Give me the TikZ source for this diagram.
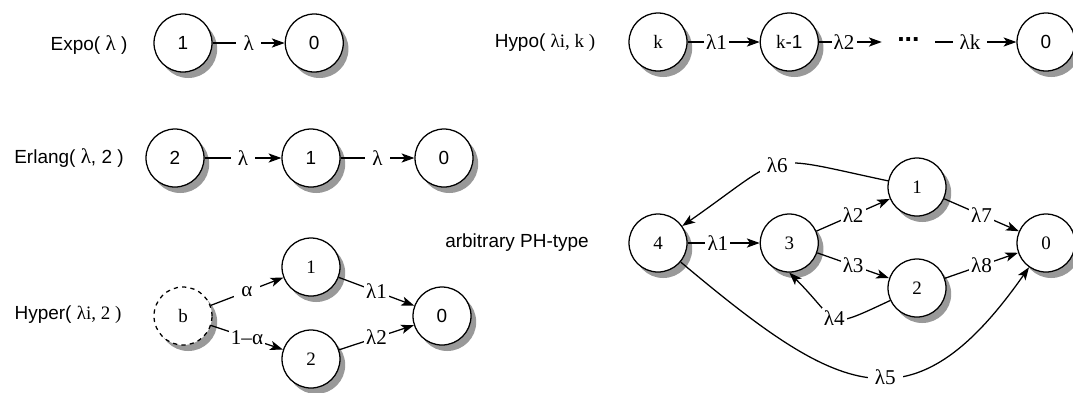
\documentclass[tikz,border=0pt]{standalone}
\usepackage{fontspec}
\setmainfont{Liberation Sans}
\newfontfamily\tms{Liberation Serif}
\usepackage{tikz}
\usetikzlibrary{arrows.meta,positioning,shadows}

\begin{document}
\begin{tikzpicture}[
  font=\fontsize{13.5}{16}\selectfont,
  state/.style={circle, draw, line width=0.9pt, fill=white, minimum size=1.45cm,
                inner sep=0pt, drop shadow={fill=black!40, opacity=1,
                shadow xshift=0.13cm, shadow yshift=-0.15cm}},
  tstate/.style={state, font=\fontsize{13.5}{16}\selectfont\tms},
  rate/.style={fill=white, inner sep=1.5pt, font=\fontsize{15}{17}\selectfont\tms},
  wrate/.style={rate, inner xsep=5pt},
  arr/.style={-{Stealth[length=3.2mm, width=2.3mm, inset=0.8mm]}, line width=0.9pt},
  node distance=1.8cm
]
\useasboundingbox (0,0) rectangle (26.825,-9.8);

% ── Exponential ─────────────
\node (expo) at (2.225,-1.125) {Expo( {\tms\fontsize{15}{17}\selectfont λ} )};
\node[state] (e1) at (4.575,-1.075) {1};
\node[state, right=of e1] (e0) {0};
\draw[arr] (e1) -- node[wrate]{λ} (e0);

% ── Hypoexponential ─────────
\node (hypo) at (13.625,-1.075) {Hypo( {\tms λi, k )}};
\node[tstate] (hk) at (16.45,-1.05) {k};
\node[tstate, right=of hk] (hk1) {k{\rmfamily -1}};
\node[minimum width=1.32cm, inner sep=0pt] (dots) at (22.71,-1.05)
  {\fontsize{19}{19}\selectfont\bfseries\raisebox{0.2em}{...}};
\node[state] (h0) at (26.15,-1.05) {0};
\draw[arr] (hk) -- node[rate, pos=0.4]{λ1} (hk1);
\draw[arr] (hk1) -- node[rate, pos=0.4]{λ2} (dots);
\draw[arr] (dots) -- node[wrate, pos=0.43]{λk} (h0);

% ── Erlang ──────────────────
\node (erl) at (1.725,-3.95) {Erlang( {\tms\fontsize{15}{17}\selectfont λ}, 2 )};
\node[state] (r2) at (4.375,-3.95) {2};
\node[state] (r1) at (7.775,-3.95) {1};
\node[state] (r0) at (11.1,-3.95) {0};
\draw[arr] (r2) -- node[wrate]{λ} (r1);
\draw[arr] (r1) -- node[wrate]{λ} (r0);

% ── Hyperexponential ────────
\node (hyp) at (1.7,-7.875) {Hyper( {\tms λi, 2 )}};
\node[tstate, dashed] (hb) at (4.575,-7.9) {b};
\node[tstate] (y1) at (7.775,-6.675) {1};
\node[tstate] (y2) at (7.775,-8.975) {2};
\node[state] (y0) at (11.05,-7.9) {0};
\draw[arr] (hb) -- node[wrate]{α} (y1);
\draw[arr] (hb) -- node[rate]{1–α} (y2);
\draw[arr] (y1) -- node[rate]{λ1} (y0);
\draw[arr] (y2) -- node[rate]{λ2} (y0);

% ── general phase-type ──────
\node (ph) at (12.925,-6.075) {arbitrary PH-type};
\node[tstate] (p4) at (16.45,-6.075) {4};
\node[tstate, right=of p4] (p3) {3};
\node[tstate] (p1) at (22.925,-4.675) {1};
\node[tstate] (p2) at (22.925,-7.2) {2};
\node[tstate] (p0) at (26.15,-6.075) {0};
\draw[arr] (p4) -- node[rate, pos=0.42]{λ1} (p3);
\draw[arr] (p3) -- node[rate]{λ2} (p1);
\draw[arr] (p3) -- node[rate]{λ3} (p2);
\draw[arr] (p2) to[out=205, in=-45, looseness=1.8] node[rate]{λ4} (p3.south);
\draw[arr] (p4) to[out=-40, in=-125, looseness=1.5] node[wrate, pos=0.55]{λ5} (p0);
\draw[arr] (p1) to[out=168, in=35, looseness=1.6] node[wrate]{λ6} (p4);
\draw[arr] (p1) -- node[rate]{λ7} (p0);
\draw[arr] (p2) -- node[rate]{λ8} (p0);
\end{tikzpicture}
\end{document}
